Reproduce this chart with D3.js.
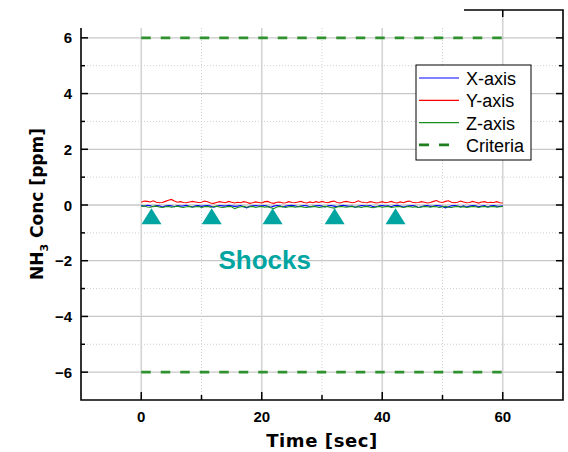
<!DOCTYPE html>
<html>
<head>
<meta charset="utf-8">
<script src="https://cdn.jsdelivr.net/npm/d3@7"></script>
<style>
  body { margin: 0; background: #fff; }
  svg { display: block; }
</style>
</head>
<body>
<div id="chart"></div>
<script>

// Sample times (sec), one value every 0.5 s from 0 to 60
var times = d3.range(0, 60.001, 0.5);

var xAxisVals = [
  -0.02,-0.05,-0.01,-0.03,-0.06,-0.02,-0.03,-0.07,-0.04,-0.02,
  -0.03,-0.06,-0.02,-0.04,-0.03,-0.01,-0.05,-0.07,-0.03,-0.02,
  -0.05,-0.03,-0.02,-0.04,-0.08,-0.05,-0.02,-0.03,-0.04,-0.01,
  -0.03,-0.05,-0.04,-0.02,-0.06,-0.10,-0.05,-0.03,-0.02,-0.04,
  -0.03,-0.02,-0.05,-0.08,-0.04,-0.02,-0.03,-0.07,-0.04,-0.02,
  -0.01,-0.03,-0.06,-0.04,-0.02,-0.03,-0.07,-0.05,-0.03,-0.02,
  -0.04,-0.07,-0.03,-0.02,-0.04,-0.06,-0.03,-0.01,-0.03,-0.05,
  -0.04,-0.08,-0.05,-0.02,-0.03,-0.04,-0.02,-0.06,-0.07,-0.03,
  -0.02,-0.04,-0.03,-0.06,-0.02,-0.01,-0.04,-0.07,-0.05,-0.03,
  -0.02,-0.04,-0.09,-0.06,-0.03,-0.02,-0.05,-0.04,-0.02,-0.03,
  -0.05,-0.10,-0.06,-0.03,-0.02,-0.04,-0.06,-0.03,-0.07,-0.04,
  -0.02,-0.03,-0.06,-0.04,-0.02,-0.07,-0.03,-0.02,-0.04,-0.05,
  -0.03
];

var yAxisVals = [
  0.10,0.14,0.13,0.11,0.15,0.10,0.08,0.09,0.13,0.17,
  0.20,0.14,0.10,0.12,0.09,0.08,0.11,0.13,0.11,0.09,
  0.10,0.14,0.12,0.07,0.06,0.09,0.12,0.10,0.08,0.13,
  0.10,0.07,0.10,0.08,0.12,0.10,0.06,0.08,0.11,0.09,
  0.07,0.12,0.13,0.08,0.06,0.10,0.11,0.07,0.08,0.12,
  0.09,0.08,0.11,0.13,0.09,0.07,0.11,0.08,0.12,0.09,
  0.13,0.10,0.08,0.12,0.14,0.09,0.07,0.11,0.13,0.11,
  0.08,0.10,0.15,0.11,0.09,0.08,0.12,0.10,0.07,0.09,
  0.12,0.08,0.10,0.13,0.09,0.07,0.11,0.08,0.12,0.14,
  0.10,0.08,0.09,0.12,0.10,0.07,0.09,0.13,0.16,0.11,
  0.09,0.13,0.15,0.10,0.08,0.10,0.14,0.11,0.08,0.09,
  0.13,0.10,0.07,0.11,0.12,0.08,0.10,0.09,0.12,0.08,
  0.07
];

var zAxisVals = [
  -0.05,-0.03,-0.07,-0.08,-0.05,-0.04,-0.07,-0.09,-0.06,-0.05,
  -0.08,-0.06,-0.04,-0.07,-0.09,-0.06,-0.05,-0.08,-0.06,-0.05,
  -0.09,-0.06,-0.05,-0.08,-0.06,-0.04,-0.07,-0.09,-0.07,-0.05,
  -0.06,-0.13,-0.09,-0.06,-0.05,-0.08,-0.06,-0.05,-0.09,-0.06,
  -0.05,-0.08,-0.06,-0.10,-0.13,-0.07,-0.05,-0.06,-0.09,-0.06,
  -0.05,-0.08,-0.06,-0.05,-0.08,-0.09,-0.06,-0.05,-0.06,-0.09,
  -0.07,-0.05,-0.06,-0.09,-0.11,-0.07,-0.05,-0.06,-0.08,-0.06,
  -0.05,-0.08,-0.06,-0.09,-0.06,-0.05,-0.08,-0.10,-0.06,-0.05,
  -0.08,-0.06,-0.05,-0.09,-0.07,-0.05,-0.06,-0.09,-0.06,-0.05,
  -0.08,-0.06,-0.09,-0.07,-0.05,-0.06,-0.08,-0.05,-0.06,-0.09,
  -0.06,-0.05,-0.08,-0.09,-0.06,-0.05,-0.08,-0.06,-0.09,-0.07,
  -0.05,-0.06,-0.09,-0.06,-0.05,-0.08,-0.06,-0.05,-0.08,-0.06,
  -0.05
];

var seriesNames = ['X-axis', 'Y-axis', 'Z-axis'];
var criteriaLevels = [6, -6];
var criteriaSpan = [0, 60];
var shockTimes = [1.7, 11.7, 21.8, 32.1, 42.2];
var shockLabel = 'Shocks';

var xMajor = [0, 20, 40, 60];
var xMinor = [10, 30, 50];
var yMajor = [-6, -4, -2, 0, 2, 4, 6];
var yMinor = [-5, -3, -1, 1, 3, 5];

var width = 568, height = 452;
var pLeft = 81, pRight = 563, pTop = 10, pBottom = 400;

var x = d3.scaleLinear().domain([-10, 70]).range([pLeft, pRight]);
var y = d3.scaleLinear().domain([-7, 7]).range([pBottom, pTop]);

var svg = d3.select('#chart')
    .append('svg')
    .attr('width', width)
    .attr('height', height)
    .style('font-family', '"Liberation Sans", Arial, sans-serif');

// Grid lines
var grid = svg.append('g');
grid.selectAll('.vmaj').data(xMajor).enter().append('line')
    .attr('x1', d => x(d)).attr('x2', d => x(d))
    .attr('y1', pTop).attr('y2', pBottom)
    .attr('stroke', '#d4d4d4').attr('stroke-width', 1.6);
grid.selectAll('.vmin').data(xMinor).enter().append('line')
    .attr('x1', d => x(d)).attr('x2', d => x(d))
    .attr('y1', pTop).attr('y2', pBottom)
    .attr('stroke', '#d0d0d0').attr('stroke-width', 1)
    .attr('stroke-dasharray', '1,2');
grid.selectAll('.hmaj').data(yMajor).enter().append('line')
    .attr('x1', pLeft).attr('x2', pRight)
    .attr('y1', d => y(d)).attr('y2', d => y(d))
    .attr('stroke', '#c8c8c8').attr('stroke-width', 1.3);
grid.selectAll('.hmin').data(yMinor).enter().append('line')
    .attr('x1', pLeft).attr('x2', pRight)
    .attr('y1', d => y(d)).attr('y2', d => y(d))
    .attr('stroke', '#d0d0d0').attr('stroke-width', 1)
    .attr('stroke-dasharray', '1,2');

// Criteria lines
var critColor = '#2f922f';
svg.selectAll('.crit').data(criteriaLevels).enter().append('line')
    .attr('x1', x(criteriaSpan[0])).attr('x2', x(criteriaSpan[1]))
    .attr('y1', d => y(d)).attr('y2', d => y(d))
    .attr('stroke', critColor).attr('stroke-width', 2.6)
    .attr('stroke-dasharray', '9.5,10');

// Series
var colors = ['#0000ff', '#ff0000', '#1b8f1b'];
var seriesData = [xAxisVals, yAxisVals, zAxisVals];
var line = d3.line()
    .x((d, i) => x(times[i]))
    .y(d => y(d));
svg.selectAll('.series').data(seriesData).enter().append('path')
    .attr('d', line)
    .attr('fill', 'none')
    .attr('stroke', (d, i) => colors[i])
    .attr('stroke-width', 1.1);

// Shock markers
var shockColor = '#00a5a2';
svg.selectAll('.shock').data(shockTimes).enter().append('path')
    .attr('d', d => 'M' + x(d) + ',' + y(-0.12) + 'l10,16h-20z')
    .attr('fill', shockColor);
svg.append('text')
    .attr('x', x(20.5))
    .attr('y', y(-2.28))
    .attr('text-anchor', 'middle')
    .style('font-size', '26px')
    .style('font-weight', 'bold')
    .attr('fill', shockColor)
    .text(shockLabel);

// Mask the top-left region (blank in reference)
svg.append('rect')
    .attr('x', 0).attr('y', 0)
    .attr('width', 464).attr('height', 28)
    .attr('fill', '#fff');

// Frame
var frame = svg.append('g').attr('stroke', '#000').attr('stroke-width', 1.6).attr('fill', 'none');
frame.append('path').attr('d', 'M' + pLeft + ',28V' + pBottom + 'H' + pRight + 'V' + pTop + 'H464');

// Ticks (inward)
function xticks(vals, len) {
    svg.selectAll(null).data(vals).enter().append('line')
        .attr('x1', d => x(d)).attr('x2', d => x(d))
        .attr('y1', pBottom).attr('y2', pBottom - len)
        .attr('stroke', '#000').attr('stroke-width', 1.5);
}
xticks(xMajor, 8);
xticks(xMinor, 5);
svg.append('line')
    .attr('x1', x(60)).attr('x2', x(60))
    .attr('y1', pTop).attr('y2', pTop + 7)
    .attr('stroke', '#000').attr('stroke-width', 1.5);

function yticks(vals, len) {
    svg.selectAll(null).data(vals).enter().append('line')
        .attr('x1', pLeft).attr('x2', pLeft + len)
        .attr('y1', d => y(d)).attr('y2', d => y(d))
        .attr('stroke', '#000').attr('stroke-width', 1.5);
    svg.selectAll(null).data(vals).enter().append('line')
        .attr('x1', pRight).attr('x2', pRight - len)
        .attr('y1', d => y(d)).attr('y2', d => y(d))
        .attr('stroke', '#000').attr('stroke-width', 1.5);
}
yticks(yMajor, 7);
yticks(yMinor, 4);

// Tick labels
var fmt = d3.format('d');
svg.selectAll('.xl').data(xMajor).enter().append('text')
    .attr('x', d => x(d)).attr('y', 422)
    .attr('text-anchor', 'middle')
    .style('font-size', '15px').style('font-weight', 'bold')
    .text(d => fmt(d));
svg.selectAll('.yl').data(yMajor).enter().append('text')
    .attr('x', 72).attr('y', d => y(d) + 5.5)
    .attr('text-anchor', 'end')
    .style('font-size', '15px').style('font-weight', 'bold')
    .text(d => fmt(d));

// Axis titles
svg.append('text')
    .attr('x', (pLeft + pRight) / 2).attr('y', 447)
    .attr('text-anchor', 'middle')
    .style('font-family', '"DejaVu Sans", sans-serif')
    .style('font-size', '18px').style('font-weight', 'bold')
    .style('letter-spacing', '0.6px')
    .text('Time [sec]');

var yt = svg.append('text')
    .attr('transform', 'translate(43,204) rotate(-90)')
    .attr('text-anchor', 'middle')
    .style('font-family', '"DejaVu Sans", sans-serif')
    .style('font-size', '17px').style('font-weight', 'bold');
yt.append('tspan').text('NH');
yt.append('tspan').attr('dy', 5).style('font-size', '11px').text('3');
yt.append('tspan').attr('dy', -5).text(' Conc [ppm]');

// Legend
var lg = svg.append('g').attr('transform', 'translate(416,65)');
lg.append('rect')
    .attr('width', 115).attr('height', 95)
    .attr('fill', '#fff').attr('stroke', '#000').attr('stroke-width', 1);
var legendItems = seriesNames.map((n, i) => ({name: n, color: colors[i], dash: null}))
    .concat([{name: 'Criteria', color: '#1f7f1f', dash: '10,10'}]);
var items = lg.selectAll('.item').data(legendItems).enter().append('g')
    .attr('transform', (d, i) => 'translate(0,' + (13 + i * 22.3) + ')');
items.append('line')
    .attr('x1', 3).attr('x2', 43)
    .attr('stroke', d => d.color)
    .attr('stroke-width', d => d.dash ? 2.6 : 1.2)
    .attr('stroke-dasharray', d => d.dash);
items.append('text')
    .attr('x', 50).attr('y', 7)
    .style('font-size', '18px')
    .text(d => d.name);

</script>
</body>
</html>
